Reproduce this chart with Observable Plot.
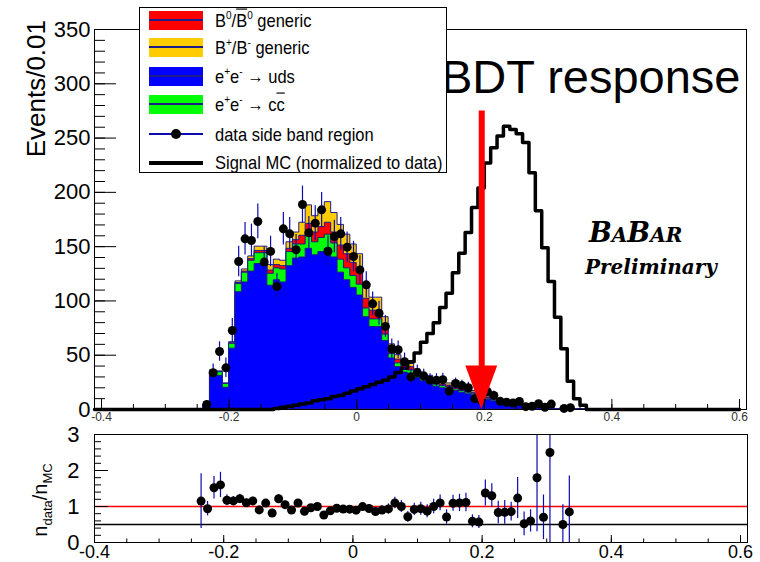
<!DOCTYPE html>
<html>
<head>
<meta charset="utf-8">
<script src="https://cdn.jsdelivr.net/npm/d3@7"></script>
<script src="https://cdn.jsdelivr.net/npm/@observablehq/plot@0.6"></script>
<style>
  body { margin: 0; background: #fff; }
  #chart { position: relative; width: 760px; height: 562px; overflow: hidden;
           font-family: "Liberation Sans", Arial, sans-serif; color: #000; }
  #chart > div.panel { position: absolute; left: 0; }
  #chart svg { overflow: visible; }
  #legend { position: absolute; left: 139px; top: 7px; width: 306px; height: 164px;
            border: 1px solid #000; background: #fff; }
  #legend .row { position: absolute; left: 0; height: 27px; width: 100%; }
  #legend .sw { position: absolute; left: 9px; top: 4px; width: 54px; height: 19px; }
  #legend .sw .mid { position: absolute; left: 0; width: 54px; top: 8px; height: 2px; }
  #legend .lab { position: absolute; left: 75px; top: 2.5px; height: 22px; font-size: 16.5px; line-height: 22px;
                 white-space: nowrap; transform: scaleY(1.15); transform-origin: left center; }
  #legend sup { font-size: 10px; line-height: 0; vertical-align: baseline; position: relative; top: -0.75em; }
  .ovl { text-decoration: overline; }
  #ratioTitle { position: absolute; left: 40px; top: 500px; font-size: 20px; white-space: nowrap;
                transform: translate(-50%, -50%) rotate(-90deg); }
  #ratioTitle sub { font-size: 13px; line-height: 0; vertical-align: baseline; position: relative; top: 0.35em; }
</style>
</head>
<body>
<div id="chart">
  <div class="panel" id="upper" style="top:0px"></div>
  <div class="panel" id="lower" style="top:432px"></div>
  <div id="legend"></div>
  <div id="ratioTitle">n<sub>data</sub>/n<sub>MC</sub></div>
</div>
<script>
// Histogram binning: 60 bins of width 0.01 starting at -0.24
const binLowEdge = -0.24;
const binWidth = 0.01;

// MC background components (events per bin), bottom to top of the stack
const udsEvents = [3.6, 32.5, 31, 20, 56, 108, 117, 127, 134, 133,
  114, 119, 117, 132, 139, 140, 148, 142, 145, 148,
  140, 126, 119, 112, 105, 85, 76, 76, 63, 47,
  39, 34, 33, 29, 26, 24, 21, 19.5, 19, 17,
  15.5, 14, 13, 11.5, 9, 7.5, 7, 6, 5, 4,
  3, 3, 1.5, 1.5, 1, 0, 1, 1, 0, 0];
const ccbarEvents = [0.3, 2.8, 3.3, 3.5, 4.5, 7.5, 9, 10, 10, 11,
  11, 11, 12, 13, 13, 12, 13, 12, 13, 13,
  13, 12, 11, 11, 10, 8, 7, 7, 6, 4,
  3.5, 3, 3, 2.5, 2, 2, 2, 2, 1.5, 1.5,
  1.5, 1.5, 1.5, 1, 1, 1, 0.5, 0.5, 0.5, 0.5,
  0.5, 0.5, 0.5, 0.5, 0.3, 0, 0.3, 0.3, 0, 0];
const bNeutralEvents = [0, 0.3, 0.3, 0.2, 0.5, 1, 1, 1.5, 2, 2,
  3, 3, 3, 3, 4, 8, 10, 9, 10, 11,
  10, 13, 13, 12, 12, 9, 8, 8, 7, 4,
  3.5, 3, 3, 2.5, 2, 2, 2, 1.5, 1.5, 1.5,
  1.5, 1, 1, 1, 1, 0.5, 0.5, 0.5, 0.5, 0.5,
  0.5, 0.5, 0.5, 0.5, 0.3, 0, 0.3, 0.3, 0, 0];
const bChargedEvents = [0.1, 0.4, 0.5, 0.3, 1, 1.5, 2, 2.5, 4, 4,
  5, 5, 5, 6, 7, 12, 17, 15, 16, 19,
  18, 19, 18, 17, 16, 13, 12, 12, 9, 5,
  4, 4, 3, 3, 3, 3, 2, 2, 2, 2,
  1.5, 1.5, 1.5, 1.5, 1, 1, 1, 1, 1, 1,
  1, 1, 0.5, 0.5, 0.4, 0, 0.4, 0.4, 0, 0];

// Side-band data and its uncertainties
const dataEvents = [4.6, 33.8, 53.4, 38.4, 72.8, 136.3, 157.2, 155.7, 173.2, 135.8,
  145.6, 113.3, 166.4, 161.8, 147.1, 188.8, 162.7, 171.6, 183.9, 145.8,
  159.3, 161.8, 149.5, 140.9, 128.6, 114.8, 97.3, 88.7, 76.5, 56,
  55, 44, 30, 34, 31, 27, 27, 27.5, 17, 24,
  22, 20, 10, 8.5, 16.5, 13, 7.5, 6.7, 6, 7.4,
  2.6, 3, 5.4, 2.1, 5, 0, 1, 1.7, 0, 0];
const dataErrors = [3, 8, 9, 9, 11, 14, 15, 15, 16, 14,
  14, 12, 15, 15, 14, 17, 15, 16, 16, 14,
  15, 15, 14, 14, 13, 12, 11, 11, 10, 9,
  8, 8, 7, 7, 6, 6, 6, 6, 5, 5,
  5, 5, 4, 4, 4, 4, 3, 3, 3, 3,
  2, 2, 2, 2, 2, 0, 1, 1, 0, 0];
// Uncertainty on the data/MC ratio (data and MC statistics)
const ratioErrors = [0.76, 0.2, 0.31, 0.35, 0.15, 0.12, 0.12, 0.1, 0.1, 0.1,
  0.1, 0.1, 0.12, 0.1, 0.1, 0.1, 0.09, 0.09, 0.09, 0.08,
  0.09, 0.09, 0.09, 0.09, 0.1, 0.1, 0.11, 0.11, 0.12, 0.14,
  0.16, 0.17, 0.15, 0.17, 0.18, 0.18, 0.2, 0.22, 0.2, 0.22,
  0.24, 0.26, 0.18, 0.18, 0.36, 0.33, 0.31, 0.33, 0.26, 0.57,
  0.33, 0.31, 1.5, 0.62, 2.5, 0, 0.55, 1.0, 0, 0];

// Signal MC, normalized to data
const signalEvents = [0, 0, 0, 0, 0, 0, 0, 0, 0, 0,
  0, 1, 2, 3, 4, 5, 6, 8, 9, 10,
  12, 13, 15, 17, 19, 21, 23, 25, 27, 30,
  34, 38, 44, 52, 62, 70, 80, 94, 107, 126,
  144, 163, 186, 204, 227, 241, 252, 261, 258, 254,
  246, 218, 183, 149, 118, 85, 56, 26, 10, 4];

// Cut position on the BDT output and the arrow that marks it
const cutValue = 0.196;
const arrowTop = 275, arrowHeadBase = 40, arrowHalfWidth = 0.025;

// Axis ticks
const yMajorTicks = [0, 50, 100, 150, 200, 250, 300, 350];
const yMinorTicks = d3.range(0, 351, 10);
const xMajorTicks = [-0.4, -0.2, 0, 0.2, 0.4, 0.6];
const xMinorTicks = d3.range(-40, 61, 5).map(v => v / 100);
const ratioMajorTicks = [0, 1, 2, 3];
const ratioMinorTicks = d3.range(0, 16).map(v => v / 5);

const legendLabels = [
  'B<sup>0</sup>/<span class="ovl">B</span><sup>0</sup> generic',
  'B<sup>+</sup>/B<sup>-</sup> generic',
  'e<sup>+</sup>e<sup>-</sup> &rarr; uds',
  'e<sup>+</sup>e<sup>-</sup> &rarr; c<span class="ovl">c</span>',
  'data side band region',
  'Signal MC (normalized to data)'
];
const colors = {bNeutral: "#ff0000", bCharged: "#ffcc00", uds: "#0000ff", ccbar: "#00ff00",
  outline: "#1c1c8a", error: "#0b0bb0"};
const fmt = d => (d === 0 ? "0" : String(d));

// ---- assemble the binned table
const bins = udsEvents.map((uds, i) => {
  const x0 = Math.round((binLowEdge + i * binWidth) * 1000) / 1000;
  const cc = ccbarEvents[i], bn = bNeutralEvents[i], bc = bChargedEvents[i];
  const s1 = uds, s2 = s1 + cc, s3 = s2 + bn, s4 = s3 + bc;
  return {x0, xc: x0 + binWidth / 2, s1, s2, s3, s4,
    data: dataEvents[i], err: dataErrors[i], rerr: ratioErrors[i], sig: signalEvents[i]};
});
const lastBin = bins[bins.length - 1];
// step-after rows: one per left edge plus the closing right edge
const stepRows = [...bins, {...lastBin, x0: lastBin.x0 + binWidth}];
const signalRows = [{x0: -0.411, sig: 0}, ...bins, {x0: lastBin.x0 + binWidth, sig: 0}, {x0: 0.6, sig: 0}];
const dataRows = bins.filter(d => d.data > 0);
const ratioRows = bins.filter(d => d.data > 0 && d.s4 > 0)
  .map(d => ({xc: d.xc, r: d.data / d.s4, e: d.rerr}));
const arrowHead = [
  {x: cutValue - arrowHalfWidth, y1: arrowHeadBase, y2: arrowHeadBase},
  {x: cutValue, y1: 0, y2: arrowHeadBase},
  {x: cutValue + arrowHalfWidth, y1: arrowHeadBase, y2: arrowHeadBase}
];

const stackLayer = (key, fill) =>
  Plot.areaY(stepRows, {x: "x0", y: key, curve: "step-after", fill, stroke: colors.outline, strokeWidth: 1});

const upper = Plot.plot({
  width: 760, height: 432,
  marginLeft: 94, marginRight: 14, marginTop: 29, marginBottom: 23,
  style: {fontFamily: "'Liberation Sans', Arial, sans-serif", background: "transparent", color: "#000"},
  x: {domain: [-0.411, 0.611]},
  y: {domain: [0, 350]},
  marks: [
    stackLayer("s4", colors.bCharged),
    stackLayer("s3", colors.bNeutral),
    stackLayer("s2", colors.ccbar),
    stackLayer("s1", colors.uds),
    Plot.lineY(signalRows, {x: "x0", y: "sig", curve: "step-after", stroke: "#000", strokeWidth: 3.5}),
    Plot.ruleX(dataRows, {x: "xc", y1: d => d.data - d.err, y2: d => d.data + d.err, stroke: colors.error, strokeWidth: 1.2}),
    Plot.dot(dataRows, {x: "xc", y: "data", r: 4.5, fill: "#000", stroke: "none"}),
    Plot.ruleX([cutValue], {y1: arrowHeadBase - 1, y2: arrowTop, stroke: "#ff0000", strokeWidth: 6}),
    Plot.areaY(arrowHead, {x: "x", y1: "y1", y2: "y2", fill: "#ff0000"}),
    Plot.frame({stroke: "#000"}),
    Plot.axisY(yMajorTicks, {tickSize: -22, tickPadding: 26, fontSize: 22, label: null, tickFormat: fmt}),
    Plot.axisY(yMinorTicks, {tickSize: -11, tickFormat: () => "", label: null}),
    Plot.axisX(xMajorTicks, {tickSize: -10, tickPadding: 13, fontSize: 12, label: null, tickFormat: fmt, fill: "#333"}),
    Plot.axisX(xMinorTicks, {tickSize: -5, tickFormat: () => "", label: null}),
    Plot.text(["BDT response"], {frameAnchor: "top-right", dx: -6, dy: 30, fontSize: 47, textAnchor: "end", lineAnchor: "top"})
  ]
});
document.getElementById("upper").append(upper);

// axis title and experiment logo
const usvg = d3.select(upper);
usvg.append("text")
  .attr("transform", "translate(45,20) rotate(-90)")
  .attr("text-anchor", "end")
  .attr("font-size", 26)
  .attr("font-family", "'Liberation Sans', Arial, sans-serif")
  .text("Events/0.01");
const logo = usvg.append("text")
  .attr("x", 589).attr("y", 242)
  .attr("text-anchor", "start")
  .attr("font-family", "'DejaVu Serif', serif")
  .attr("font-weight", "bold").attr("font-style", "italic");
[["B", 27], ["A", 20], ["B", 27], ["A", 20], ["R", 20]].forEach(([c, s]) =>
  logo.append("tspan").attr("font-size", s).text(c));
usvg.append("text")
  .attr("x", 585).attr("y", 274)
  .attr("text-anchor", "start")
  .attr("font-family", "'DejaVu Serif', serif")
  .attr("font-weight", "bold").attr("font-style", "italic")
  .attr("font-size", 20)
  .text("Preliminary");

const lower = Plot.plot({
  width: 760, height: 130,
  marginLeft: 94, marginRight: 13, marginTop: 2, marginBottom: 20,
  style: {fontFamily: "'Liberation Sans', Arial, sans-serif", background: "transparent", color: "#000"},
  x: {domain: [-0.4, 0.6108]},
  y: {domain: [0, 3]},
  marks: [
    Plot.ruleY([1], {stroke: "#ff0000", strokeWidth: 1.5}),
    Plot.ruleY([0.5], {stroke: "#000", strokeWidth: 1.5}),
    Plot.ruleX(ratioRows, {x: "xc", y1: d => Math.max(0, d.r - d.e), y2: d => Math.min(3, d.r + d.e), stroke: colors.error, strokeWidth: 1.2}),
    Plot.dot(ratioRows, {x: "xc", y: "r", r: 4.5, fill: "#000", stroke: "none"}),
    Plot.frame({stroke: "#000"}),
    Plot.axisY(ratioMajorTicks, {tickSize: -14, tickPadding: 29, fontSize: 22, label: null}),
    Plot.axisY(ratioMinorTicks, {tickSize: -7, tickFormat: () => "", label: null}),
    Plot.axisX(xMajorTicks, {tickSize: -7, tickPadding: 10, fontSize: 18, label: null, tickFormat: fmt}),
    Plot.axisX(xMinorTicks, {tickSize: -3.5, tickFormat: () => "", label: null})
  ]
});
document.getElementById("lower").append(lower);

// legend box
const legendKinds = [
  {fill: colors.bNeutral}, {fill: colors.bCharged}, {fill: colors.uds}, {fill: colors.ccbar},
  {marker: true}, {thick: true}
];
const legendRowTop = [-1.5, 25.5, 54.5, 82.5, 112, 140.5];
const legend = d3.select("#legend");
legendLabels.forEach((html, i) => {
  const row = legend.append("div").attr("class", "row").style("top", `${legendRowTop[i]}px`);
  const sw = row.append("div").attr("class", "sw");
  const k = legendKinds[i];
  if (k.fill) {
    sw.style("background", k.fill);
    sw.append("div").attr("class", "mid").style("background", colors.outline);
  } else if (k.marker) {
    sw.append("div").attr("class", "mid").style("background", colors.error).style("height", "1.5px").style("top", "9px");
    sw.append("div").style("position", "absolute").style("left", "22px").style("top", "5px")
      .style("width", "10px").style("height", "10px").style("border-radius", "50%").style("background", "#000");
  } else {
    sw.append("div").attr("class", "mid").style("background", "#000").style("height", "4px").style("top", "8px");
  }
  row.append("div").attr("class", "lab").html(html);
});
</script>
</body>
</html>
